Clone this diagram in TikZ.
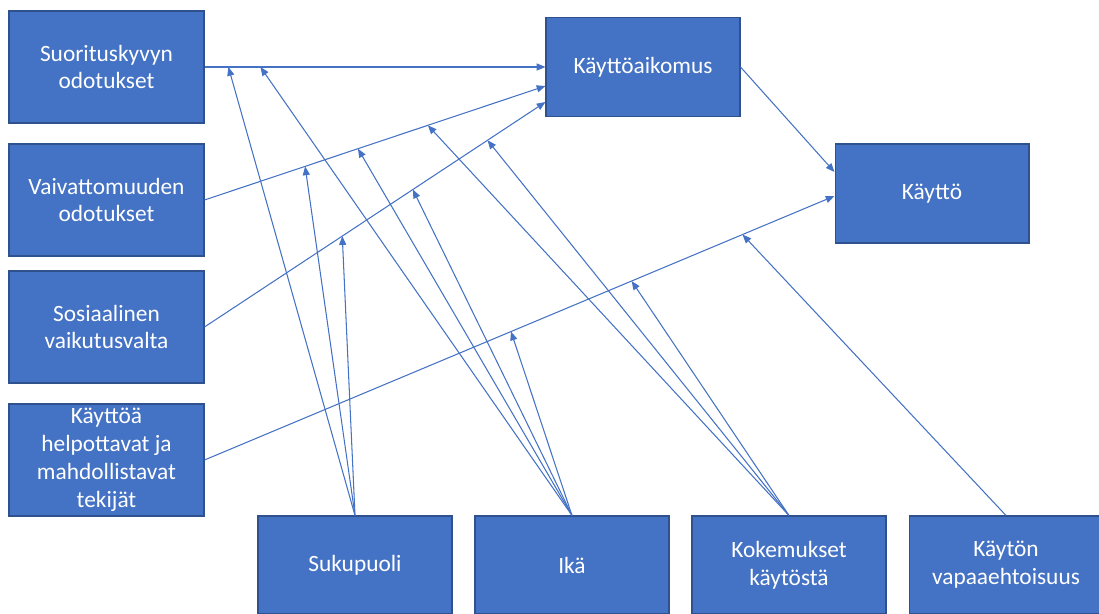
\documentclass[tikz,border=0pt]{standalone}
\usepackage{fontspec}
\setmainfont{Carlito}
\usetikzlibrary{arrows.meta,calc}
\definecolor{boxblue}{HTML}{4472C4}
\definecolor{boxedge}{HTML}{2F528F}
\begin{document}
\begin{tikzpicture}[x=0.02cm,y=-0.02cm,
 box/.style={draw=boxedge, line width=0.6pt, fill=boxblue, text=white, align=center, inner sep=0pt, font=\fontsize{13.3}{15.9}\selectfont},
 lbox/.style={box, minimum width=3.9cm, minimum height=2.24cm},
 tbox/.style={box, minimum width=3.88cm, minimum height=1.98cm},
 bbox/.style={box, minimum width=3.88cm, minimum height=1.96cm},
 conn/.style={draw=boxblue, line width=0.6pt, -{Triangle[length=5pt,width=4pt]}}
]
\useasboundingbox (0,0) rectangle (1099,614);

\node[lbox] (pe) at (106.5,67) {Suorituskyvyn\\odotukset};
\node[lbox] (ee) at (106.5,200) {Vaivattomuuden\\odotukset};
\node[lbox] (si) at (106.5,327) {Sosiaalinen\\vaikutusvalta};
\node[lbox] (fc) at (106.5,460) {Käyttöä\\helpottavat ja\\mahdollistavat\\tekijät};
\node[tbox] (bi) at (643,67) {Käyttöaikomus};
\node[tbox] (ub) at (932,193.5) {Käyttö};
\node[bbox] (gen) at (355,565) {Sukupuoli};
\node[bbox] (age) at (572,565) {Ikä};
\node[bbox] (exp) at (789,565) {Kokemukset\\käytöstä};
\node[bbox] (vol) at (1006,565) {Käytön\\vapaaehtoisuus};

\coordinate (bi2) at ($(bi.west)+(0,19)$);
\coordinate (bi3) at ($(bi.west)+(0,35)$);
\coordinate (ub4) at ($(ub.west)+(0,2.5)$);
\coordinate (ub5) at ($(ub.west)+(0,-21.5)$);

\draw[conn] (pe.east) -- (bi.west);
\draw[conn] (ee.east) -- (bi2);
\draw[conn] (si.east) -- (bi3);
\draw[conn] (fc.east) -- (ub4);
\draw[conn] (bi.east) -- (ub5);

\coordinate (m1a) at ($(pe.east)!0.070!(bi.west)$);
\coordinate (m1b) at ($(pe.east)!0.164!(bi.west)$);
\coordinate (m2a) at ($(ee.east)!0.295!(bi2)$);
\coordinate (m2b) at ($(ee.east)!0.450!(bi2)$);
\coordinate (m2c) at ($(ee.east)!0.655!(bi2)$);
\coordinate (m3a) at ($(si.east)!0.404!(bi3)$);
\coordinate (m3b) at ($(si.east)!0.611!(bi3)$);
\coordinate (m3c) at ($(si.east)!0.830!(bi3)$);
\coordinate (m4a) at ($(fc.east)!0.4865!(ub4)$);
\coordinate (m4b) at ($(fc.east)!0.678!(ub4)$);
\coordinate (m4c) at ($(fc.east)!0.854!(ub4)$);

\draw[conn] (gen.north) -- (m1a);
\draw[conn] (gen.north) -- (m2a);
\draw[conn] (gen.north) -- (m3a);
\draw[conn] (age.north) -- (m1b);
\draw[conn] (age.north) -- (m2b);
\draw[conn] (age.north) -- (m3b);
\draw[conn] (age.north) -- (m4a);
\draw[conn] (exp.north) -- (m2c);
\draw[conn] (exp.north) -- (m3c);
\draw[conn] (exp.north) -- (m4b);
\draw[conn] (vol.north) -- (m4c);
\end{tikzpicture}
\end{document}
